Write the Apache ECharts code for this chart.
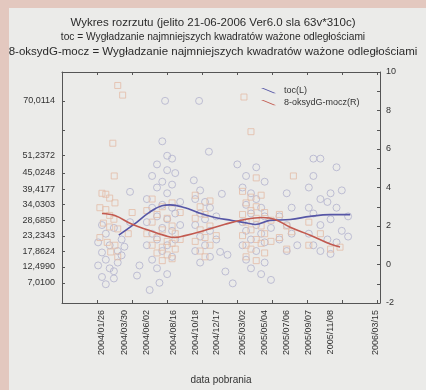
<!DOCTYPE html>
<html><head><meta charset="utf-8">
<script src="https://cdn.jsdelivr.net/npm/echarts@6/dist/echarts.min.js"></script>
<style>
html,body{margin:0;padding:0;width:426px;height:390px;overflow:hidden;background:#e3c8bf;}
#page{position:absolute;left:9px;top:8px;right:0;bottom:0;background:#ebebe9;}
#chart{position:absolute;left:0;top:0;width:426px;height:390px;}
</style></head>
<body><div id="page"></div><div id="chart"></div>
<script>
// ---- data ----
const titleLines = [
  'Wykres rozrzutu (jelito 21-06-2006 Ver6.0 sla 63v*310c)',
  'toc = Wygładzanie najmniejszych kwadratów ważone odległościami',
  '8-oksydG-mocz = Wygładzanie najmniejszych kwadratów ważone odległościami'
];
const xAxisName = 'data pobrania';
const legendNames = ['toc(L)', '8-oksydG-mocz(R)'];
const xLabelDates = ['2004-01-26','2004-03-30','2004-06-02','2004-08-16','2004-10-18','2004-12-17',
  '2005-03-02','2005-05-04','2005-07-06','2005-09-07','2005-11-08','2006-03-15'];
const xTickDates = ['2004-01-12','2004-04-21','2004-07-30','2004-11-07','2005-02-15','2005-05-26',
  '2005-09-03','2005-12-12','2006-03-22'];
const xRange = ['2003-10-04','2006-03-29'];
const leftLabelValues = [7.0100,12.4990,17.8624,23.2343,28.6850,34.0303,39.4177,45.0248,51.2372,70.0114];
const leftTickValues = [7.0100,12.4990,17.8624,23.2343,28.6850,34.0303,39.4177,45.0248,51.2372,60,70.0114];

const tocPoints = [
 ['2004-01-15',21],['2004-01-15',13],['2004-01-26',27],['2004-01-26',17.5],['2004-01-26',9],['2004-02-06',24],
 ['2004-02-06',15],['2004-02-06',6.5],['2004-02-17',20],['2004-02-17',12],['2004-02-29',26],['2004-02-29',11],
 ['2004-02-29',8.5],['2004-03-11',18],['2004-03-11',14],['2004-03-22',16.5],['2004-03-22',22],['2004-03-30',19.5],
 ['2004-04-15',38.5],['2004-04-15',28],['2004-05-05',9.5],['2004-05-12',13],
 ['2004-06-02',20],['2004-06-02',28],['2004-06-02',36],['2004-06-17',15],['2004-06-17',24],['2004-06-17',33],
 ['2004-06-17',44],['2004-07-01',12],['2004-07-01',22],['2004-07-01',30],['2004-07-01',40],['2004-07-01',48],
 ['2004-07-16',18],['2004-07-16',26],['2004-07-16',34],['2004-07-16',42],['2004-07-16',56],['2004-07-24',70.01],
 ['2004-07-30',10],['2004-07-30',20],['2004-07-30',29],['2004-07-30',38],['2004-07-30',46],['2004-07-30',51],
 ['2004-08-13',16],['2004-08-13',25],['2004-08-13',33],['2004-08-13',41],['2004-08-13',50],['2004-08-22',22],
 ['2004-08-22',31],['2004-08-22',45],['2004-09-05',27],['2004-09-05',35],['2004-06-10',4.5],['2004-07-08',7],
 ['2004-10-14',42.5],['2004-10-18',18],['2004-10-18',27],['2004-10-18',36],['2004-10-29',70],['2004-11-01',14],
 ['2004-11-01',23],['2004-11-01',31],['2004-11-01',39],['2004-11-15',20],['2004-11-15',29],['2004-11-15',35],
 ['2004-11-26',52.4],['2004-11-29',16],['2004-11-29',25],['2004-11-29',33],['2004-12-17',22],['2004-12-17',30],
 ['2005-01-02',37.8],['2004-12-28',17.7],['2005-01-18',16.7],['2005-01-12',10.9],['2005-02-02',6.8],['2005-02-15',48],
 ['2005-03-02',20],['2005-03-02',28],['2005-03-02',40],['2005-03-12',15],['2005-03-12',25],['2005-03-12',34],
 ['2005-03-12',44],['2005-03-26',12],['2005-03-26',22],['2005-03-26',31],['2005-03-26',38],['2005-04-10',18],
 ['2005-04-10',27],['2005-04-10',36],['2005-04-10',47],['2005-04-24',10],['2005-04-24',24],['2005-04-24',33],
 ['2005-05-04',14],['2005-05-04',21],['2005-05-04',30],['2005-05-04',42],['2005-05-22',8],['2005-05-22',26],
 ['2005-06-15',22],['2005-06-15',30],['2005-07-06',18],['2005-07-06',27],['2005-07-06',38],['2005-07-20',24],
 ['2005-07-20',33],['2005-08-05',20],
 ['2005-09-07',24],['2005-09-07',33],['2005-09-07',40],['2005-09-20',20],['2005-09-20',31],['2005-09-20',44],
 ['2005-09-20',50],['2005-10-10',18],['2005-10-10',27],['2005-10-10',36],['2005-10-10',50],['2005-10-30',22],
 ['2005-10-30',35],['2005-11-08',17],['2005-11-08',29],['2005-11-08',38],['2005-11-25',21],['2005-11-25',33],
 ['2005-11-25',47],['2005-12-10',25],['2005-12-10',39],['2005-12-28',23],['2005-12-28',30]
];
const oxPoints = [
 ['2004-01-26',3.7],['2004-02-06',3.65],['2004-02-17',3.45],['2004-03-03',3.2],['2004-01-20',2.95],['2004-02-06',2.85],
 ['2004-02-17',2.55],['2004-02-29',2.35],['2004-01-30',2.15],['2004-02-17',1.95],['2004-03-11',1.85],['2004-01-20',1.4],
 ['2004-02-10',1.15],['2004-03-03',1.0],['2004-02-20',0.65],['2004-03-11',0.4],['2004-03-11',9.3],['2004-03-25',8.8],
 ['2004-02-26',6.3],['2004-03-01',4.6],['2004-04-21',2.7],['2004-04-10',1.6],
 ['2004-06-02',2.8],['2004-06-02',1.6],['2004-06-17',3.4],['2004-06-17',2.2],['2004-06-17',1.0],['2004-07-01',2.6],
 ['2004-07-01',1.4],['2004-07-01',0.6],['2004-07-16',3.0],['2004-07-16',1.8],['2004-07-16',0.9],['2004-07-16',0.2],
 ['2004-07-30',2.4],['2004-07-30',1.2],['2004-07-30',0.5],['2004-08-13',3.2],['2004-08-13',2.0],['2004-08-13',1.1],
 ['2004-08-13',0.3],['2004-08-22',1.6],['2004-08-22',0.8],['2004-09-05',2.7],['2004-09-05',1.3],
 ['2004-10-18',3.6],['2004-10-18',2.4],['2004-10-18',1.2],['2004-11-01',3.0],['2004-11-01',1.8],['2004-11-01',0.7],
 ['2004-11-15',2.6],['2004-11-15',1.4],['2004-11-15',0.4],['2004-11-29',3.3],['2004-11-29',2.0],['2004-11-29',1.0],
 ['2004-12-17',1.5],['2005-03-06',8.7],['2005-03-26',6.9],['2005-04-10',4.5],['2005-07-25',4.6],
 ['2005-03-02',3.8],['2005-03-02',2.6],['2005-03-02',1.5],['2005-03-12',3.2],['2005-03-12',2.2],['2005-03-12',1.0],
 ['2005-03-12',0.4],['2005-03-26',3.5],['2005-03-26',2.8],['2005-03-26',1.8],['2005-03-26',0.8],['2005-04-10',3.0],
 ['2005-04-10',2.4],['2005-04-10',1.3],['2005-04-10',0.2],['2005-04-24',3.6],['2005-04-24',2.0],['2005-04-24',1.1],
 ['2005-05-04',2.7],['2005-05-04',1.6],['2005-05-04',0.6],['2005-05-22',2.3],['2005-05-22',1.2],
 ['2005-06-15',2.6],['2005-06-15',1.4],['2005-07-06',2.0],['2005-07-06',0.8],['2005-07-20',1.7],
 ['2005-09-07',2.2],['2005-09-07',1.0],['2005-10-10',1.6],['2005-11-08',0.8],['2005-12-05',0.9]
];
const tocSmooth = [
 ['2004-03-14',23.5],['2004-04-26',27.2],['2004-06-08',31.3],['2004-07-15',33.7],['2004-08-07',34.0],
 ['2004-09-19',33.0],['2004-10-26',31.3],['2004-12-13',29.6],['2005-01-31',28.6],['2005-03-18',27.6],
 ['2005-04-07',27.2],['2005-05-19',28.6],['2005-07-16',28.9],['2005-09-11',30.0],['2005-11-07',30.6],['2006-01-03',30.6]
];
const oxSmooth = [
 ['2004-01-26',2.65],['2004-03-03',2.54],['2004-04-21',2.09],['2004-06-08',1.78],['2004-07-24',1.5],
 ['2004-08-20',1.4],['2004-09-19',1.5],['2004-11-15',1.78],['2005-01-11',2.09],['2005-03-09',2.34],
 ['2005-04-27',2.44],['2005-06-03',2.34],['2005-07-16',1.93],['2005-09-11',1.52],['2005-11-07',1.06],['2005-12-05',0.91]
];

// ---- helpers ----
const t = s => { const p = s.split('-').map(Number); return Date.UTC(p[0], p[1]-1, p[2]); };
const pad = n => (n < 10 ? '0' : '') + n;
const fmtDate = v => { const d = new Date(v); return d.getUTCFullYear() + '/' + pad(d.getUTCMonth()+1) + '/' + pad(d.getUTCDate()); };
const conv = arr => arr.map(p => [t(p[0]), p[1]]);

const font = 'Liberation Sans, Arial, sans-serif';
const axisColor = '#555';
const txt = '#333';
const blue = '#5656a6';
const red = '#c25a50';
const titleSizes = [11.5, 10.2, 11.5];
const titleTops = [12, 27, 41];

const chart = echarts.init(document.getElementById('chart'), null, {renderer: 'canvas'});
const diag = 'path://M0,0 L3,0 L20,7 L17,7 Z';
chart.setOption({
  backgroundColor: 'transparent',
  animation: false,
  title: titleLines.map((s, i) => ({
    text: s, left: 'center', top: titleTops[i],
    textStyle: {fontFamily: font, fontSize: titleSizes[i], fontWeight: 'normal', color: '#2a2a2a'}
  })),
  legend: {
    data: legendNames, orient: 'vertical', left: 256, top: 81, itemGap: 3,
    itemWidth: 15, itemHeight: 6, icon: diag,
    textStyle: {fontFamily: font, fontSize: 9, color: txt, padding: [0,0,0,3]}
  },
  grid: {left: 62, right: 46, top: 72, bottom: 83, show: false},
  xAxis: [{
    type: 'value', min: t(xRange[0]), max: t(xRange[1]), position: 'bottom',
    name: xAxisName, nameLocation: 'middle', nameGap: 72,
    nameTextStyle: {fontFamily: font, fontSize: 10, color: txt},
    axisLine: {onZero: false, lineStyle: {color: axisColor}},
    axisTick: {inside: true, length: 3, lineStyle: {color: axisColor}, customValues: xTickDates.map(t)},
    axisLabel: {rotate: 90, fontFamily: font, fontSize: 9, color: txt, margin: 7,
      customValues: xLabelDates.map(t), formatter: v => fmtDate(v)},
    splitLine: {show: false}
  }, {
    type: 'value', position: 'top', min: t(xRange[0]), max: t(xRange[1]),
    axisLine: {show: true, onZero: false, lineStyle: {color: axisColor}},
    axisTick: {inside: true, length: 3, lineStyle: {color: axisColor}, customValues: xTickDates.map(t)},
    axisLabel: {show: false}, splitLine: {show: false}
  }],
  yAxis: [{
    type: 'value', min: 0, max: 80, position: 'left',
    axisLine: {show: true, onZero: false, lineStyle: {color: axisColor}},
    axisTick: {show: true, inside: true, length: 3, lineStyle: {color: axisColor}, customValues: leftTickValues},
    axisLabel: {fontFamily: font, fontSize: 9, color: txt, margin: 7, customValues: leftLabelValues,
      formatter: v => v.toFixed(4).replace('.', ',')},
    splitLine: {show: false}
  }, {
    type: 'value', min: -2, max: 10, interval: 2, position: 'right',
    axisLine: {show: true, onZero: false, lineStyle: {color: axisColor}},
    axisTick: {show: true, inside: true, length: 3, lineStyle: {color: axisColor}},
    minorTick: {show: true, splitNumber: 2, length: 3, lineStyle: {color: axisColor}},
    axisLabel: {fontFamily: font, fontSize: 9, color: txt, margin: 6},
    splitLine: {show: false}
  }],
  series: [
    {name: 'toc', type: 'scatter', xAxisIndex: 0, yAxisIndex: 0, data: conv(tocPoints),
     symbol: 'circle', symbolSize: 7, silent: true,
     itemStyle: {color: 'rgba(0,0,0,0)', borderColor: '#b2b2cd', borderWidth: 1}},
    {name: '8-oksydG-mocz', type: 'scatter', xAxisIndex: 0, yAxisIndex: 1, data: conv(oxPoints),
     symbol: 'rect', symbolSize: 6, silent: true,
     itemStyle: {color: 'rgba(0,0,0,0)', borderColor: '#e3bca6', borderWidth: 1}},
    {name: legendNames[0], type: 'line', xAxisIndex: 0, yAxisIndex: 0, data: conv(tocSmooth),
     smooth: 0.4, showSymbol: false, lineStyle: {color: blue, width: 1.6}, itemStyle: {color: blue}},
    {name: legendNames[1], type: 'line', xAxisIndex: 0, yAxisIndex: 1, data: conv(oxSmooth),
     smooth: 0.4, showSymbol: false, lineStyle: {color: red, width: 1.6}, itemStyle: {color: red}}
  ]
});
</script></body></html>
